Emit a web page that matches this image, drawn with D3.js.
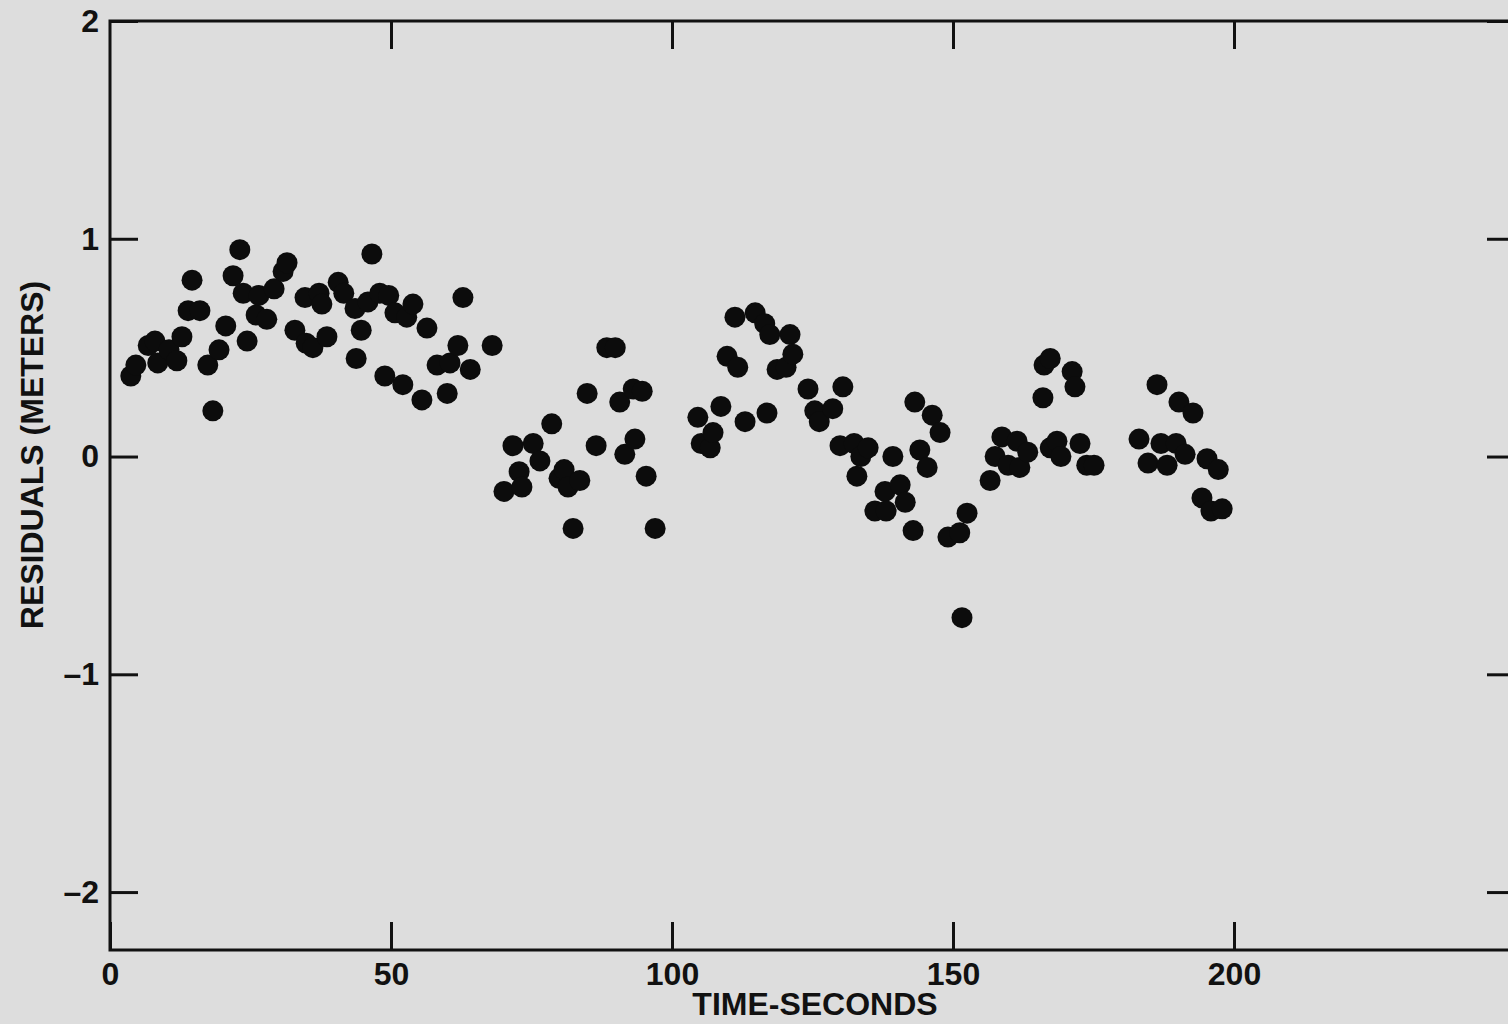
<!DOCTYPE html>
<html>
<head>
<meta charset="utf-8">
<script src="https://cdn.jsdelivr.net/npm/d3@7"></script>
<style>
  body { margin: 0; background: #dddddd; }
  #canvas { width: 1508px; height: 1024px; overflow: hidden; }
  text { font-family: "Liberation Sans", Arial, Helvetica, sans-serif; font-weight: bold; fill: #111; }
</style>
</head>
<body>
<div id="canvas"></div>
<script>
"use strict"

// Residuals (seconds, meters)
let timeSeconds = [
    3.7, 4.6, 6.8, 8.0, 8.5, 10.5, 11.9, 12.8, 13.9, 14.6,
    16.0, 17.4, 18.3, 19.4, 20.6, 21.9, 23.1, 23.7, 24.4, 26.0,
    26.5, 27.9, 29.2, 30.8, 31.5, 32.9, 34.7, 34.9, 36.1, 37.2,
    37.7, 38.6, 40.6, 41.6, 43.6, 43.8, 44.7, 45.9, 46.6, 48.0,
    49.6, 48.9, 50.7, 52.1, 52.8, 53.9, 55.5, 56.4, 58.2, 60.0,
    60.5, 61.9, 62.8, 64.1, 68.0,
    70.1, 71.7, 72.8, 73.3, 75.3, 76.5, 78.6, 79.9, 80.8, 81.5,
    82.4, 83.6, 84.9, 86.5, 88.4, 89.9, 90.7, 91.6, 93.1, 93.4,
    94.7, 95.4, 97.0,
    104.6, 105.2, 106.8, 107.3, 108.7, 109.8, 111.2, 111.7, 113.0, 114.8,
    116.5, 116.9, 117.4, 118.7, 120.3, 121.0, 121.5, 124.2, 125.4, 126.2,
    128.6, 130.4, 129.9, 132.4, 132.9, 133.6, 134.9, 136.1, 137.9, 138.1,
    139.3, 140.6, 141.5, 142.9, 143.2, 144.1, 145.4, 146.3, 147.7, 149.1,
    151.2, 151.6, 152.5, 156.6, 157.5, 158.7, 159.8, 161.4, 161.9, 163.3,
    166.0, 166.2, 167.3, 167.3, 168.5, 169.2, 171.2, 171.7, 172.6, 173.8,
    175.1, 183.1, 184.7, 186.3, 187.0, 188.1, 189.7, 190.2, 191.3, 192.7,
    194.3, 195.2, 195.9, 197.2, 197.9
];
let residualMeters = [
    0.37, 0.42, 0.51, 0.53, 0.43, 0.49, 0.44, 0.55, 0.67, 0.81,
    0.67, 0.42, 0.21, 0.49, 0.60, 0.83, 0.95, 0.75, 0.53, 0.65,
    0.74, 0.63, 0.77, 0.85, 0.89, 0.58, 0.73, 0.52, 0.50, 0.75,
    0.70, 0.55, 0.80, 0.75, 0.68, 0.45, 0.58, 0.71, 0.93, 0.75,
    0.74, 0.37, 0.66, 0.33, 0.64, 0.70, 0.26, 0.59, 0.42, 0.29,
    0.43, 0.51, 0.73, 0.40, 0.51,
    -0.16, 0.05, -0.07, -0.14, 0.06, -0.02, 0.15, -0.10, -0.06, -0.14,
    -0.33, -0.11, 0.29, 0.05, 0.50, 0.50, 0.25, 0.01, 0.31, 0.08,
    0.30, -0.09, -0.33,
    0.18, 0.06, 0.04, 0.11, 0.23, 0.46, 0.64, 0.41, 0.16, 0.66,
    0.61, 0.20, 0.56, 0.40, 0.41, 0.56, 0.47, 0.31, 0.21, 0.16,
    0.22, 0.32, 0.05, 0.06, -0.09, 0.00, 0.04, -0.25, -0.16, -0.25,
    0.00, -0.13, -0.21, -0.34, 0.25, 0.03, -0.05, 0.19, 0.11, -0.37,
    -0.35, -0.74, -0.26, -0.11, 0.00, 0.09, -0.04, 0.07, -0.05, 0.02,
    0.27, 0.42, 0.45, 0.04, 0.07, 0.00, 0.39, 0.32, 0.06, -0.04,
    -0.04, 0.08, -0.03, 0.33, 0.06, -0.04, 0.06, 0.25, 0.01, 0.20,
    -0.19, -0.01, -0.25, -0.06, -0.24
];

let xTickValues = [0, 50, 100, 150, 200];
let yTickValues = [-2, -1, 0, 1, 2];

/*  The drawing canvas */
let drawing = d3.select("#canvas")
    .append("svg")
    .attr("width", 1508)
    .attr("height", 1024);

drawing.append("rect")
    .attr("width", 1508)
    .attr("height", 1024)
    .attr("fill", "#dddddd");

// Scales: the frame runs past the right edge of the picture
let xScale = d3.scaleLinear()
    .domain([0, 250])
    .range([110, 1515]);
let yScale = d3.scaleLinear()
    .domain([-2.266, 2])
    .range([950, 21]);

let tickLen = 28;

// Bottom axis with labels, ticks pointing inward
let bottomAxis = drawing.append("g")
    .attr("transform", "translate(0," + yScale(-2.266) + ")")
    .call(d3.axisBottom(xScale)
        .tickValues(xTickValues)
        .tickSizeInner(-tickLen)
        .tickSizeOuter(0)
        .tickPadding(12)
        .tickFormat(d3.format("d")));

// Top axis, ticks only
let topAxis = drawing.append("g")
    .attr("transform", "translate(0," + yScale(2) + ")")
    .call(d3.axisTop(xScale)
        .tickValues(xTickValues.slice(1))
        .tickSizeInner(-tickLen)
        .tickSizeOuter(0)
        .tickFormat(""));

// Left axis with labels
let leftAxis = drawing.append("g")
    .attr("transform", "translate(" + xScale(0) + ",0)")
    .call(d3.axisLeft(yScale)
        .tickValues(yTickValues)
        .tickSizeInner(-tickLen)
        .tickSizeOuter(0)
        .tickPadding(11)
        .tickFormat(d => d < 0 ? "\u2013" + Math.abs(d) : d));

// Right axis, ticks only
let rightAxis = drawing.append("g")
    .attr("transform", "translate(" + xScale(250) + ",0)")
    .call(d3.axisRight(yScale)
        .tickValues(yTickValues)
        .tickSizeInner(-tickLen)
        .tickSizeOuter(0)
        .tickFormat(""));

[bottomAxis, topAxis, leftAxis, rightAxis].forEach(function (ax) {
    ax.select(".domain").remove();
    ax.selectAll(".tick line")
        .attr("stroke", "#111")
        .attr("stroke-width", 3);
    ax.selectAll(".tick text")
        .attr("font-size", 32)
        .attr("font-weight", "bold")
        .attr("fill", "#111");
});

// Frame
drawing.append("rect")
    .attr("x", xScale(0))
    .attr("y", yScale(2))
    .attr("width", xScale(250) - xScale(0))
    .attr("height", yScale(-2.266) - yScale(2))
    .attr("fill", "none")
    .attr("stroke", "#111")
    .attr("stroke-width", 3);

// Dots
drawing.append("g")
    .selectAll("circle")
    .data(timeSeconds)
    .join("circle")
    .attr("cx", d => xScale(d))
    .attr("cy", (d, i) => yScale(residualMeters[i]))
    .attr("r", 10.5)
    .attr("fill", "#0c0c0c");

// Axis titles
drawing.append("text")
    .attr("x", 815)
    .attr("y", 1015)
    .attr("text-anchor", "middle")
    .attr("font-size", 32)
    .text("TIME-SECONDS");

drawing.append("text")
    .attr("transform", "translate(43,455) rotate(-90)")
    .attr("text-anchor", "middle")
    .attr("font-size", 32)
    .text("RESIDUALS (METERS)");
</script>
</body>
</html>
